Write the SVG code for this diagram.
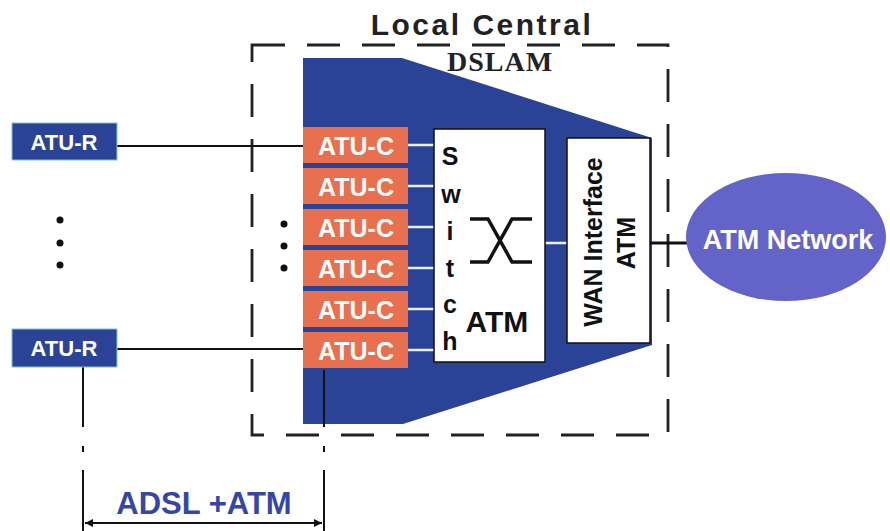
<svg xmlns="http://www.w3.org/2000/svg" width="890" height="531" viewBox="0 0 890 531">
<style>
.sans{font-family:"Liberation Sans",Arial,sans-serif;font-weight:bold}
.atuc rect{fill:#E8704F}
.atuc text{fill:#fff;font-size:25px;text-anchor:middle}
.atur rect{fill:#2B4396;stroke:#7fc4d8;stroke-width:1}
.atur text{fill:#fff;font-size:22px;text-anchor:middle}
.blk{stroke:#111;stroke-width:2;fill:none}
.wht{stroke:#e8f0ff;stroke-width:2.5;fill:none}
.sw{font-size:25px;fill:#111;text-anchor:middle}
</style>
<defs>
<marker id="ah" viewBox="0 0 10 10" refX="10" refY="5" markerWidth="10" markerHeight="8" orient="auto-start-reverse" markerUnits="userSpaceOnUse">
<path d="M0,0 L10,5 L0,10 z" fill="#111"/>
</marker>
</defs>
<rect width="890" height="531" fill="#fff"/>

<g id="local-central">
<rect x="252" y="45" width="416" height="390" fill="none" stroke="#222" stroke-width="2.8" stroke-dasharray="33 22"/>
<text class="sans" x="482" y="35" font-size="30" fill="#222" text-anchor="middle" letter-spacing="2.5">Local Central</text>
</g>

<g id="dslam">
<polygon points="303,58 402,58 652,138 652,345 403,424 303,424" fill="#2B4396"/>
<text x="500" y="71" font-family="'Liberation Serif','Times New Roman',serif" font-weight="bold" font-size="28" fill="#222" text-anchor="middle" letter-spacing="1">DSLAM</text>
</g>

<g id="connectors">
<line class="blk" x1="117" y1="146" x2="303" y2="146"/>
<line class="blk" x1="117" y1="349" x2="303" y2="349"/>
<line class="wht" x1="408" y1="145" x2="434" y2="145"/>
<line class="wht" x1="408" y1="186" x2="434" y2="186"/>
<line class="wht" x1="408" y1="227" x2="434" y2="227"/>
<line class="wht" x1="408" y1="268" x2="434" y2="268"/>
<line class="wht" x1="408" y1="309" x2="434" y2="309"/>
<line class="wht" x1="408" y1="350" x2="434" y2="350"/>
<line class="wht" x1="545" y1="243" x2="567" y2="243"/>
<line stroke="#111" stroke-width="3" x1="650" y1="243" x2="688" y2="243"/>
<path class="blk" d="M83,367 V427 M83,446 V452 M83,470 V531"/>
<path class="blk" d="M324,370 V427 M324,446 V452 M324,470 V531"/>
<line class="blk" x1="85" y1="523" x2="322" y2="523" marker-start="url(#ah)" marker-end="url(#ah)"/>
</g>

<g id="atu-r-1" class="atur sans">
<rect x="12" y="123" width="105" height="37"/>
<text x="64" y="150">ATU-R</text>
</g>
<g id="atu-r-2" class="atur sans">
<rect x="12" y="329" width="105" height="38"/>
<text x="64" y="356">ATU-R</text>
</g>

<g id="dots-left" fill="#111">
<circle cx="60" cy="220" r="3.5"/><circle cx="60" cy="243" r="3.5"/><circle cx="60" cy="265" r="3.5"/>
</g>
<g id="dots-right" fill="#111">
<circle cx="284" cy="224" r="3.5"/><circle cx="284" cy="246" r="3.5"/><circle cx="284" cy="268" r="3.5"/>
</g>

<g id="atu-c-1" class="atuc sans"><rect x="303" y="127" width="105" height="36"/><text x="356" y="155">ATU-C</text></g>
<g id="atu-c-2" class="atuc sans"><rect x="303" y="168" width="105" height="36"/><text x="356" y="196">ATU-C</text></g>
<g id="atu-c-3" class="atuc sans"><rect x="303" y="209" width="105" height="36"/><text x="356" y="237">ATU-C</text></g>
<g id="atu-c-4" class="atuc sans"><rect x="303" y="250" width="105" height="36"/><text x="356" y="278">ATU-C</text></g>
<g id="atu-c-5" class="atuc sans"><rect x="303" y="291" width="105" height="36"/><text x="356" y="319">ATU-C</text></g>
<g id="atu-c-6" class="atuc sans"><rect x="303" y="332" width="105" height="36"/><text x="356" y="360">ATU-C</text></g>

<g id="switch-atm" class="sans">
<rect x="434" y="129" width="111" height="233" fill="#fff" stroke="#111" stroke-width="1.5"/>
<text class="sw" x="450" y="165">S</text>
<text class="sw" x="451" y="203">w</text>
<text class="sw" x="450" y="240">i</text>
<text class="sw" x="450" y="277">t</text>
<text class="sw" x="450" y="313">c</text>
<text class="sw" x="450" y="350">h</text>
<text x="497" y="332" font-size="30" fill="#111" text-anchor="middle">ATM</text>
<path d="M470,219 H488 L512,262 H532 M532,219 H512 L488,262 H470" fill="none" stroke="#111" stroke-width="3.5"/>
</g>

<g id="wan-interface" class="sans">
<rect x="567" y="138" width="83" height="205" fill="#fff" stroke="#111" stroke-width="1.5"/>
<text transform="translate(602,242) rotate(-90)" font-size="25" fill="#111" text-anchor="middle">WAN Interface</text>
<text transform="translate(635,243) rotate(-90)" font-size="25" fill="#111" text-anchor="middle">ATM</text>
</g>

<g id="atm-network" class="sans">
<ellipse cx="786" cy="237" rx="100" ry="64" fill="#6464C8"/>
<text x="788" y="249" font-size="27" fill="#fff" text-anchor="middle">ATM Network</text>
</g>

<g id="adsl-label">
<text class="sans" x="204" y="514" font-size="31" fill="#3447A8" text-anchor="middle">ADSL +ATM</text>
</g>
</svg>
